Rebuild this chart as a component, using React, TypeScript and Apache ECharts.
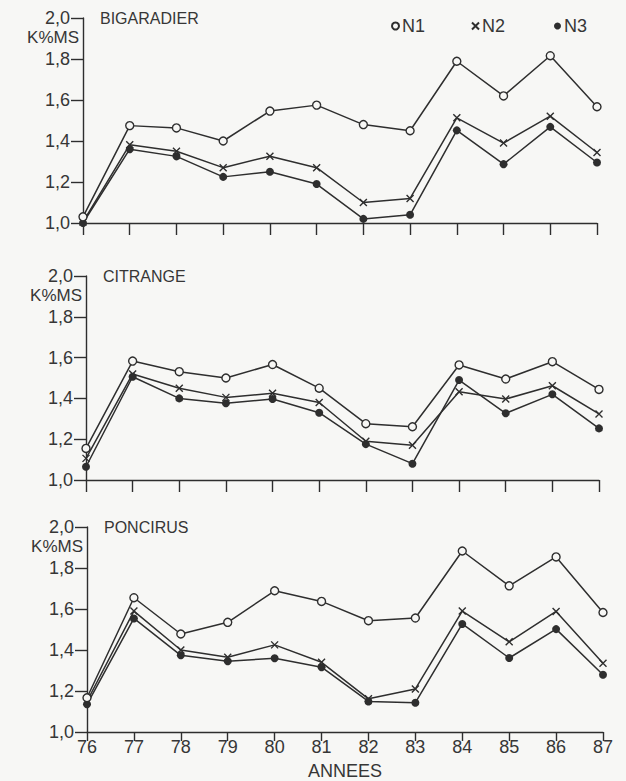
import React, { useEffect, useRef } from "react";
import * as echarts from "echarts";

const years = [76, 77, 78, 79, 80, 81, 82, 83, 84, 85, 86, 87];
const seriesNames = ["N1", "N2", "N3"];
const panelTitles = ["BIGARADIER", "CITRANGE", "PONCIRUS"];
const yUnit = "K%MS";
const xName = "ANNEES";

const bigaradierN1 = [1.03, 1.475, 1.464, 1.40, 1.546, 1.575, 1.48, 1.45, 1.789, 1.62, 1.816, 1.567];
const bigaradierN2 = [1.005, 1.382, 1.35, 1.27, 1.326, 1.27, 1.10, 1.12, 1.513, 1.39, 1.521, 1.344];
const bigaradierN3 = [1.0, 1.36, 1.325, 1.225, 1.25, 1.19, 1.02, 1.04, 1.452, 1.287, 1.469, 1.295];

const citrangeN1 = [1.155, 1.583, 1.531, 1.50, 1.566, 1.45, 1.276, 1.261, 1.564, 1.495, 1.58, 1.444];
const citrangeN2 = [1.106, 1.52, 1.45, 1.405, 1.425, 1.38, 1.19, 1.17, 1.433, 1.397, 1.462, 1.324];
const citrangeN3 = [1.065, 1.506, 1.40, 1.376, 1.397, 1.33, 1.176, 1.08, 1.49, 1.327, 1.42, 1.253];

const poncirusN1 = [1.167, 1.655, 1.478, 1.535, 1.689, 1.637, 1.543, 1.556, 1.883, 1.713, 1.854, 1.583];
const poncirusN2 = [1.15, 1.59, 1.40, 1.365, 1.425, 1.34, 1.162, 1.21, 1.59, 1.44, 1.588, 1.335];
const poncirusN3 = [1.135, 1.554, 1.374, 1.345, 1.36, 1.316, 1.149, 1.143, 1.527, 1.361, 1.502, 1.279];

const panels = [
  [bigaradierN1, bigaradierN2, bigaradierN3],
  [citrangeN1, citrangeN2, citrangeN3],
  [poncirusN1, poncirusN2, poncirusN3],
];

const INK = "#2e2e2e";
const TEXT = "#363636";
const BG = "#f7f7f5";
const FONT = "'Liberation Sans', Arial, Helvetica, sans-serif";
const CROSS = "path://M0,0L10,10M10,0L0,10";

const grids = [
  { left: 83, top: 18, width: 514, height: 205 },
  { left: 86, top: 276, width: 513, height: 204 },
  { left: 87, top: 527, width: 516, height: 205 },
];

const symbolFor = (k: number) => (k === 1 ? CROSS : "circle");
const sizeFor = (k: number) => (k === 0 ? 8 : k === 1 ? 7 : 8);
const itemStyleFor = (k: number) =>
  k === 0
    ? { color: BG, borderColor: INK, borderWidth: 1.4 }
    : k === 1
    ? { color: INK, borderColor: INK, borderWidth: 1.4 }
    : { color: INK, borderColor: INK, borderWidth: 0 };

export default function App() {
  const ref = useRef<HTMLDivElement>(null);
  useEffect(() => {
    if (!ref.current) return;
    const chart = echarts.init(ref.current, undefined, { renderer: "svg" });

    const series: any[] = [];
    panels.forEach((panel, p) => {
      panel.forEach((vals, k) => {
        series.push({
          type: "line",
          name: seriesNames[k],
          xAxisIndex: p,
          yAxisIndex: p,
          data: years.map((y, i) => [y, vals[i]]),
          symbol: symbolFor(k),
          symbolSize: sizeFor(k),
          showAllSymbol: true,
          clip: false,
          lineStyle: { color: INK, width: 1.5 },
          itemStyle: itemStyleFor(k),
          z: 3 - k,
        });
      });
    });

    const legendLefts = [386, 466, 549];
    const legends = seriesNames.map((n, k) => ({
      data: [{ name: n, icon: symbolFor(k) }],
      left: legendLefts[k],
      top: 12,
      itemWidth: 7,
      itemHeight: 7,
      itemGap: 0,
      selectedMode: false,
      textStyle: { fontSize: 18, color: TEXT, fontFamily: FONT, padding: [0, 0, 0, -2] },
    }));

    const graphic: any[] = [];
    panelTitles.forEach((t, p) => {
      const g = grids[p];
      graphic.push({
        type: "text",
        left: g.left + 17,
        top: g.top - 8,
        style: { text: t, fill: TEXT, fontSize: 16, fontFamily: FONT },
      });
      graphic.push({
        type: "text",
        right: 626 - (g.left - 4),
        top: g.top + 11,
        style: { text: yUnit, fill: TEXT, fontSize: 17, fontFamily: FONT },
      });
    });
    graphic.push({
      type: "text",
      left: 308,
      top: 762,
      style: { text: xName, fill: TEXT, fontSize: 18, fontFamily: FONT },
    });

    chart.setOption({
      animation: false,
      backgroundColor: BG,
      grid: grids.map((g) => ({ ...g, containLabel: false })),
      legend: legends,
      xAxis: grids.map((g, p) => ({
        type: "value",
        gridIndex: p,
        min: 76,
        max: 87,
        interval: 1,
        axisLine: { show: true, lineStyle: { color: INK, width: 1.4 } },
        axisTick: { show: true, length: p === 2 ? 9 : 12, lineStyle: { color: INK, width: 1.4 } },
        axisLabel: {
          show: p === 2,
          margin: 6,
          fontSize: 18,
          color: TEXT,
          fontFamily: FONT,
          formatter: (v: number) => String(v),
        },
        splitLine: { show: false },
      })),
      yAxis: grids.map((g, p) => ({
        type: "value",
        gridIndex: p,
        min: 1,
        max: 2,
        interval: 0.2,
        axisLine: { show: true, lineStyle: { color: INK, width: 1.4 } },
        axisTick: { show: true, length: 12, lineStyle: { color: INK, width: 1.4 } },
        axisLabel: {
          margin: 13,
          fontSize: 18,
          lineHeight: 18,
          color: TEXT,
          fontFamily: FONT,
          formatter: (v: number) => v.toFixed(1).replace(".", ","),
        },
        splitLine: { show: false },
      })),
      series,
      graphic,
    });
    return () => chart.dispose();
  }, []);
  return (
    <div
      ref={ref}
      style={{ position: "fixed", left: 0, top: 0, width: 626, height: 781 }}
    />
  );
}
